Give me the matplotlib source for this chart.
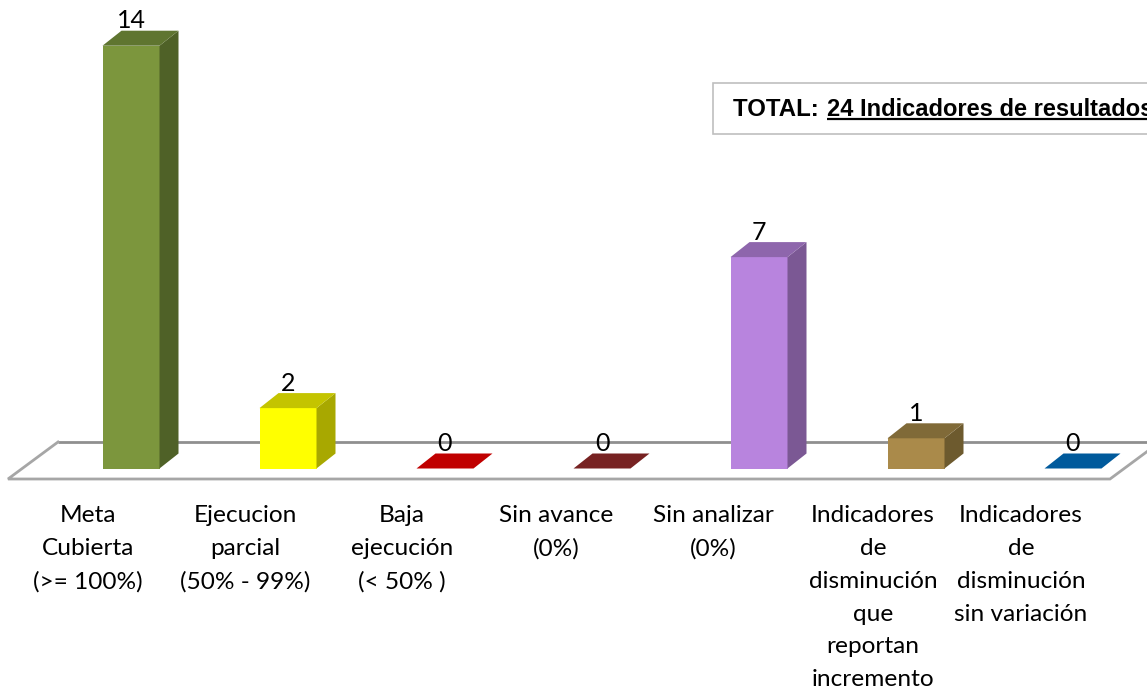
import matplotlib
matplotlib.use("Agg")
import matplotlib.pyplot as plt
from matplotlib.patches import Polygon, Rectangle

categories = ["Meta\nCubierta\n(>= 100%)", "Ejecucion\nparcial\n(50% - 99%)", "Baja\nejecución\n(< 50% )",
              "Sin avance\n(0%)", "Sin analizar\n(0%)", "Indicadores\nde\ndisminución\nque\nreportan\nincremento",
              "Indicadores\nde\ndisminución\nsin variación"]
values = [14, 2, 0, 0, 7, 1, 0]
front_colors = ["#7C963D", "#FFFF00", "#C00000", "#772222", "#B884DE", "#AA8A4A", "#005A9C"]
side_colors = ["#4F6127", "#A8A800", "#C00000", "#772222", "#7B5894", "#6D5A2E", "#005A9C"]
top_colors = ["#5F7530", "#C4C400", "#C00000", "#772222", "#8E66AC", "#806A38", "#005A9C"]
label_x = [88, 245, 402, 556, 713, 873, 1021]

W, H = 1147, 688
X0, DX = 131, 157      # pixel centre of the first bar, pixel spacing
Y0, DY = 468.5, 30.2   # pixel baseline, pixels per unit
fig = plt.figure(figsize=(W / 100, H / 100), dpi=100, facecolor="white")
ax = fig.add_axes([0, 0, 1, 1])
ax.set_xlim((0 - X0) / DX, (W - X0) / DX)
ax.set_ylim((Y0 - H) / DY, Y0 / DY)
ax.axis("off")

hw = 28.5 / DX
depth_x, depth_y = 19 / DX, 15 / DY

# floor
fy, by = -10.5 / DY, 26.5 / DY
fl, fr, bl, br = (8 - X0) / DX, (1110 - X0) / DX, (58 - X0) / DX, (1160 - X0) / DX
ax.plot([br, bl], [by, by], color="#8F8F8F", lw=2.0, solid_capstyle="butt", zorder=1)
ax.plot([bl, fl, fr, br], [by, fy, fy, by], color="#A6A6A6", lw=2.0, solid_joinstyle="miter", zorder=1)

for i, v in enumerate(values):
    l, r = i - hw, i + hw
    if v > 0:
        ax.add_patch(Rectangle((l, 0), 2 * hw, v, fc=front_colors[i], ec="none", zorder=3))
        ax.add_patch(Polygon([(r, 0), (r + depth_x, depth_y), (r + depth_x, v + depth_y), (r, v)],
                             fc=side_colors[i], ec="none", zorder=3))
    ax.add_patch(Polygon([(l, v), (r, v), (r + depth_x, v + depth_y), (l + depth_x, v + depth_y)],
                         fc=top_colors[i], ec="none", zorder=3))
    ax.text(i, v + depth_y + 10 / DY, str(v), ha="center", va="center", fontsize=18,
            family="Lato", color="black", zorder=5)

line_h = 32.7
for i, lab in enumerate(categories):
    for j, part in enumerate(lab.split("\n")):
        ax.text((label_x[i] - X0) / DX, (Y0 - (516 + j * line_h)) / DY, part, ha="center", va="center",
                fontsize=17.6, family="Lato", color="black", zorder=5)

# total box
ax.add_patch(Rectangle(((713 - X0) / DX, (Y0 - 134) / DY), 500 / DX, 51 / DY, fc="white", ec="#BFBFBF",
                       lw=1.2, zorder=2))
t1 = ax.text((733 - X0) / DX, (Y0 - 110) / DY, "TOTAL: ", ha="left", va="center", fontsize=17.3,
             family="Liberation Sans", weight="bold", zorder=5)
t2 = ax.text((827.5 - X0) / DX, (Y0 - 110) / DY, "24 Indicadores de resultados", ha="left", va="center", fontsize=17,
             family="Liberation Sans", weight="bold", zorder=5, clip_on=False)
fig.canvas.draw()
ext = t2.get_window_extent()
ax.plot([(ext.x0 - X0) / DX, (ext.x1 - X0) / DX], [(Y0 - 119) / DY] * 2, color="black", lw=1.6, zorder=5,
        solid_capstyle="butt")
fig.savefig("out.png", dpi=100)
